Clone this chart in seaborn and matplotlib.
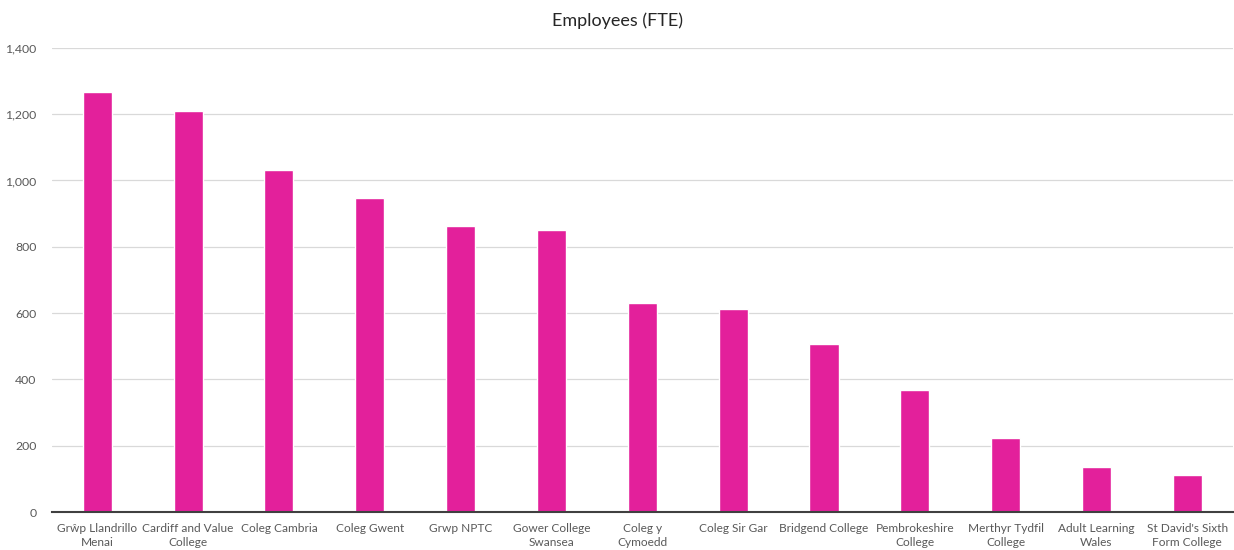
import matplotlib
matplotlib.use('Agg')
import matplotlib.pyplot as plt
import seaborn as sns
import pandas as pd

# chart data
colleges = ["Grŵp Llandrillo\nMenai", "Cardiff and Value\nCollege", "Coleg Cambria",
            "Coleg Gwent", "Grwp NPTC", "Gower College\nSwansea", "Coleg y\nCymoedd",
            "Coleg Sir Gar", "Bridgend College", "Pembrokeshire\nCollege",
            "Merthyr Tydfil\nCollege", "Adult Learning\nWales", "St David's Sixth\nForm College"]
employees = [1267, 1211, 1031, 946, 862, 850, 630, 612, 506, 367, 222, 135, 111]
yticks = [0, 200, 400, 600, 800, 1000, 1200, 1400]

df = pd.DataFrame({'College': colleges, 'FTE': employees})

sns.set_style('white')
plt.rcParams['font.family'] = ['Lato', 'DejaVu Sans']

fig = plt.figure(figsize=(12.34, 5.5), dpi=100)
ax = fig.add_axes([0.042, 0.069, 0.957, 0.844])

sns.barplot(data=df, x='College', y='FTE', color='#E3209B', saturation=1,
            width=0.32, ax=ax, zorder=3)

ax.set_ylim(0, 1400)
ax.set_xlim(-0.5, len(colleges) - 0.5)
ax.set_yticks(yticks)
ax.set_yticklabels([f'{v:,}' for v in yticks], fontsize=8.8, color='#595959')
ax.tick_params(axis='x', labelsize=8.6, colors='#595959', length=0, pad=8)
ax.tick_params(axis='y', length=0, pad=11)
for lbl in ax.get_xticklabels():
    lbl.set_linespacing(1.3)
ax.grid(axis='y', color='#D9D9D9', linewidth=0.9, zorder=0)
ax.set_xlabel('')
ax.set_ylabel('')
for s in ['top', 'right', 'left']:
    ax.spines[s].set_visible(False)
ax.spines['bottom'].set_color('#404040')
ax.spines['bottom'].set_linewidth(1.5)
ax.spines['bottom'].set_zorder(4)

fig.text(0.5, 0.962, 'Employees (FTE)', ha='center', va='center', fontsize=13, color='#262626')

fig.savefig('out.png', dpi=100)
